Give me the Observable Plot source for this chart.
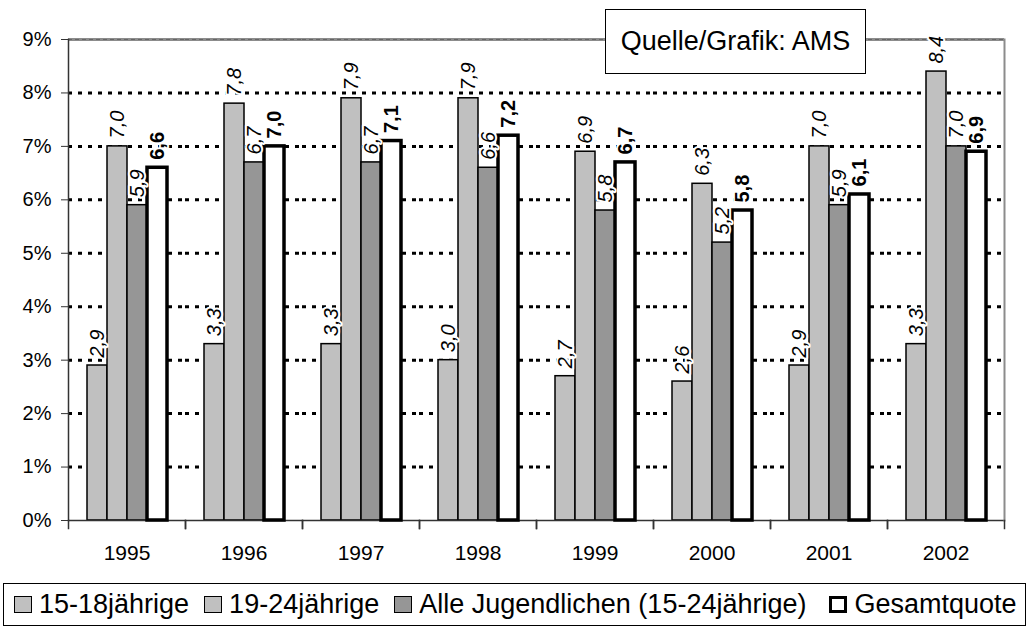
<!DOCTYPE html>
<html>
<head>
<meta charset="utf-8">
<script src="https://cdn.jsdelivr.net/npm/d3@7"></script>
<script src="https://cdn.jsdelivr.net/npm/@observablehq/plot@0.6"></script>
<style>
  html, body { margin: 0; padding: 0; background: white; }
  #wrap { position: relative; width: 1029px; height: 628px; background: white; font-family: "Liberation Sans", Arial, sans-serif; color: black; overflow: hidden; }
  #chart { position: absolute; left: 0; top: 0; }
  #source { position: absolute; left: 605px; top: 9px; width: 261px; height: 65px; box-sizing: border-box; border: 1.5px solid black; background: white; display: flex; align-items: center; justify-content: center; font-size: 27px; }
  #legend { position: absolute; left: 3px; top: 583px; width: 1023px; height: 43px; box-sizing: border-box; border: 1.5px solid black; background: white; display: flex; align-items: center; padding-left: 10px; font-size: 27px; }
  .item { display: flex; align-items: center; margin-right: 15px; white-space: nowrap; }
  .sw { width: 18px; height: 17px; box-sizing: border-box; border: 1.5px solid black; margin-right: 7px; }
</style>
</head>
<body>
<div id="wrap">
  <div id="chart"></div>
  <div id="source">Quelle/Grafik: AMS</div>
  <div id="legend"></div>
</div>
<script>
// ---- data ----
const years = ["1995", "1996", "1997", "1998", "1999", "2000", "2001", "2002"];
const series = ["15-18jährige", "19-24jährige", "Alle Jugendlichen (15-24jährige)", "Gesamtquote"];
const v1518 = [2.9, 3.3, 3.3, 3.0, 2.7, 2.6, 2.9, 3.3];
const v1924 = [7.0, 7.8, 7.9, 7.9, 6.9, 6.3, 7.0, 8.4];
const vAlle = [5.9, 6.7, 6.7, 6.6, 5.8, 5.2, 5.9, 7.0];
const vGesamt = [6.6, 7.0, 7.1, 7.2, 6.7, 5.8, 6.1, 6.9];
const yTicks = [0, 1, 2, 3, 4, 5, 6, 7, 8, 9];
const colors = ["#c0c0c0", "#c0c0c0", "#969696", "#ffffff"];

const seriesValues = [v1518, v1924, vAlle, vGesamt];
const rows = [];
years.forEach((yr, i) => {
  series.forEach((s, j) => rows.push({year: yr, series: s, value: seriesValues[j][i]}));
});
const fmt = d => d.toFixed(1).replace(".", ",");
const gridVals = yTicks.filter(t => t > 0 && t < 9);
const topVal = [yTicks[yTicks.length - 1]];
const lastYear = years[years.length - 1];
const firstYear = years[0];

const chart = Plot.plot({
  width: 1029,
  height: 580,
  marginLeft: 67,
  marginRight: 24,
  marginTop: 39,
  marginBottom: 60,
  style: {fontFamily: "'Liberation Sans', Arial, sans-serif", color: "black", background: "white", overflow: "visible"},
  fx: {domain: years, padding: 0, axis: null, label: null},
  x: {domain: series, paddingInner: 0, paddingOuter: 0.79, axis: null},
  y: {domain: [0, 9], axis: null},
  color: {domain: series, range: colors},
  marks: [
    Plot.ruleY(gridVals, {stroke: "black", strokeWidth: 3, strokeDasharray: "4,6"}),
    Plot.ruleY(topVal, {stroke: "#8c8c8c", strokeWidth: 3}),
    Plot.ruleY(topVal, {stroke: "#666", strokeWidth: 1, strokeDasharray: "4,3"}),
    Plot.barY(rows.filter(d => d.series !== series[3]), {fx: "year", x: "series", y: "value", fill: "series", stroke: "black", strokeWidth: 1.5}),
    Plot.ruleY([0], {stroke: "#333", strokeWidth: 1.5}),
    Plot.barY(rows.filter(d => d.series === series[3]), {fx: "year", x: "series", y: "value", fill: "series", stroke: "black", strokeWidth: 3.5}),
    Plot.text(rows.filter(d => d.series !== series[3]), {
      fx: "year", x: "series", y: "value", text: d => fmt(d.value),
      rotate: -90, textAnchor: "start", dy: -8, fontSize: 20, fontStyle: "italic",
      fill: "black", stroke: "white", strokeWidth: 4, paintOrder: "stroke"
    }),
    Plot.text(rows.filter(d => d.series === series[3]), {
      fx: "year", x: "series", y: "value", text: d => fmt(d.value),
      rotate: -90, textAnchor: "start", dy: -8, fontSize: 20, fontWeight: "bold",
      fill: "black", stroke: "white", strokeWidth: 4, paintOrder: "stroke"
    }),
    Plot.frame({anchor: "left", fx: () => firstYear, stroke: "#333", strokeWidth: 1.5}),
    Plot.frame({anchor: "right", fx: () => lastYear, stroke: "#8c8c8c", strokeWidth: 2}),
    Plot.frame({anchor: "left", insetTop: 481, insetBottom: -8, stroke: "#333", strokeWidth: 1.5}),
    Plot.frame({anchor: "right", insetTop: 481, insetBottom: -8, stroke: "#333", strokeWidth: 1.5}),
    Plot.axisY({ticks: yTicks, tickFormat: d => d + "%", tickSize: 7, tickPadding: 10, fontSize: 20, label: null, stroke: "#333"}),
    Plot.axisFx({anchor: "bottom", tickSize: 0, tickPadding: 25, fontSize: 21, label: null})
  ]
});
document.getElementById("chart").appendChild(chart);

// ---- legend ----
const legend = document.getElementById("legend");
series.forEach((s, j) => {
  const item = document.createElement("div");
  item.className = "item";
  if (j === 2) item.style.marginRight = "23px";
  const sw = document.createElement("div");
  sw.className = "sw";
  sw.style.background = colors[j];
  if (j === 3) sw.style.border = "3.5px solid black";
  const t = document.createElement("span");
  t.textContent = s;
  item.appendChild(sw);
  item.appendChild(t);
  legend.appendChild(item);
});
</script>
</body>
</html>
